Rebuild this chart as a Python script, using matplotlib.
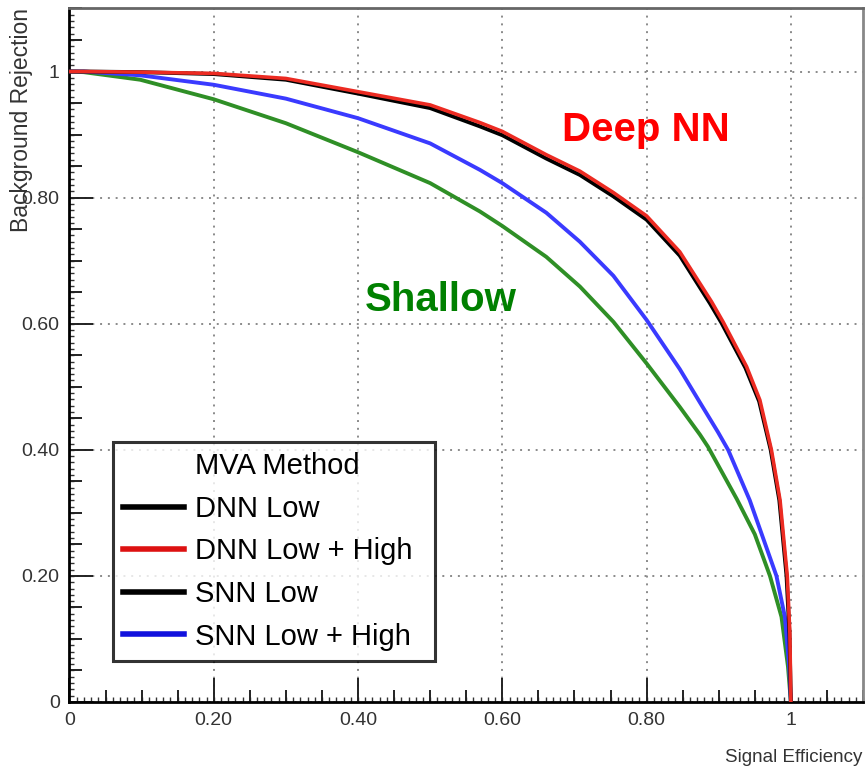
import numpy as np
import matplotlib.pyplot as plt
from matplotlib.ticker import MultipleLocator, FixedFormatter, FixedLocator, NullFormatter
from matplotlib.lines import Line2D

# signal efficiency / background rejection
dnn_high_x = [0, 0.02, 0.1, 0.2, 0.3, 0.4, 0.5, 0.569, 0.6, 0.661, 0.7075, 0.754, 0.8, 0.846, 0.890, 0.906, 0.9386, 0.957, 0.973, 0.985, 0.995, 0.9986, 1.0]
dnn_high_y = [1, 1.0, 0.999, 0.997, 0.989, 0.968, 0.947, 0.919, 0.905, 0.868, 0.842, 0.808, 0.771, 0.714, 0.635, 0.603, 0.532, 0.479, 0.40, 0.32, 0.20, 0.109, 0.0]

dnn_low_x = [0, 0.02, 0.1, 0.2, 0.3, 0.4, 0.5, 0.569, 0.6, 0.661, 0.7075, 0.754, 0.8, 0.846, 0.888, 0.904, 0.937, 0.956, 0.972, 0.984, 0.994, 0.998, 1.0]
dnn_low_y = [1, 1.0, 0.999, 0.996, 0.987, 0.965, 0.942, 0.913, 0.899, 0.862, 0.836, 0.802, 0.765, 0.708, 0.632, 0.601, 0.530, 0.477, 0.40, 0.32, 0.20, 0.109, 0.0]

snn_high_x = [0, 0.02, 0.098, 0.2, 0.3, 0.4, 0.5, 0.569, 0.6, 0.661, 0.7075, 0.754, 0.8, 0.846, 0.874, 0.899, 0.913, 0.943, 0.980, 0.9917, 0.9977, 1.0]
snn_high_y = [1, 1.0, 0.994, 0.979, 0.957, 0.926, 0.886, 0.844, 0.823, 0.776, 0.730, 0.676, 0.606, 0.528, 0.475, 0.428, 0.40, 0.32, 0.20, 0.135, 0.056, 0.0]

snn_low_x = [0, 0.02, 0.098, 0.2, 0.3, 0.4, 0.5, 0.569, 0.6, 0.661, 0.7075, 0.754, 0.8, 0.846, 0.874, 0.885, 0.925, 0.950, 0.971, 0.987, 0.996, 1.0]
snn_low_y = [1, 0.999, 0.987, 0.956, 0.918, 0.872, 0.823, 0.778, 0.755, 0.706, 0.659, 0.603, 0.537, 0.468, 0.424, 0.405, 0.322, 0.266, 0.20, 0.135, 0.056, 0.0]

legend_labels = ["MVA Method", "DNN Low", "DNN Low + High", "SNN Low", "SNN Low + High"]
tick_vals = [0, 0.2, 0.4, 0.6, 0.8, 1.0]
tick_labels = ["0", "0.20", "0.40", "0.60", "0.80", "1"]

RED = "#ec2b22"
BLUE = "#3a3aff"
GREEN = "#2f8f26"
FONT = ["Liberation Sans", "DejaVu Sans"]

fig = plt.figure(figsize=(8.65, 7.71), dpi=100)
ax = fig.add_axes([0.0803, 0.0895, 0.9174, 0.8995])

ax.plot(snn_low_x, snn_low_y, color=GREEN, lw=2.8, zorder=3)
ax.plot(snn_high_x, snn_high_y, color=BLUE, lw=2.8, zorder=4)
ax.plot(dnn_low_x, dnn_low_y, color="black", lw=2.8, zorder=5)
ax.plot(dnn_high_x, dnn_high_y, color=RED, lw=2.6, zorder=6)

ax.set_xlim(0, 1.1)
ax.set_ylim(0, 1.1)

ax.xaxis.set_major_locator(FixedLocator(tick_vals))
ax.xaxis.set_major_formatter(FixedFormatter(tick_labels))
ax.yaxis.set_major_locator(FixedLocator(tick_vals))
ax.yaxis.set_major_formatter(FixedFormatter(tick_labels))
ax.xaxis.set_minor_locator(MultipleLocator(0.05))
ax.yaxis.set_minor_locator(MultipleLocator(0.05))
ax.tick_params(which="major", direction="in", length=17, width=1.4, color="#222222",
               labelsize=14, labelcolor="#333333", pad=7, top=False, right=False)
ax.tick_params(which="minor", direction="in", length=9, width=1.4, color="#222222",
               top=False, right=False)
for lab in ax.get_xticklabels() + ax.get_yticklabels():
    lab.set_family(FONT)

# fine third-level ticks along the axes
sx = ax.secondary_xaxis("bottom")
sx.xaxis.set_major_locator(MultipleLocator(0.01))
sx.xaxis.set_major_formatter(NullFormatter())
sx.tick_params(direction="in", length=3.5, width=1, color="#333333")
sy = ax.secondary_yaxis("left")
sy.yaxis.set_major_locator(MultipleLocator(0.01))
sy.yaxis.set_major_formatter(NullFormatter())
sy.tick_params(direction="in", length=3.5, width=1, color="#333333")
for sec in (sx, sy):
    for s in sec.spines.values():
        s.set_visible(False)

ax.grid(True, which="major", color="#8a8a8a", linestyle=(0, (1, 3)), linewidth=1.4)

ax.spines["left"].set_linewidth(2)
ax.spines["bottom"].set_linewidth(2)
ax.spines["top"].set_color("#666666")
ax.spines["top"].set_linewidth(2)
ax.spines["right"].set_color("#888888")
ax.spines["right"].set_linewidth(2)

fig.text(22 / 865, 1 - 8 / 771, "Background Rejection", rotation=90, ha="center", va="top",
         fontsize=16.5, color="#333333", family=FONT)
fig.text(862 / 865, 1 - 757 / 771, "Signal Efficiency", ha="right", va="center",
         fontsize=13.5, color="#333333", family=FONT)

ax.text(0.683, 0.907, "Deep NN", color="#ff0000", fontsize=29, fontweight="bold",
        family=FONT, va="center", ha="left")
ax.text(0.41, 0.638, "Shallow", color="#008000", fontsize=29, fontweight="bold",
        family=FONT, va="center", ha="left")

handles = [
    Line2D([], [], color="none"),
    Line2D([], [], color="black", lw=4),
    Line2D([], [], color="#dd1111", lw=4),
    Line2D([], [], color="black", lw=4),
    Line2D([], [], color="#1111dd", lw=4),
]
leg = ax.legend(handles, legend_labels, loc="upper left",
                bbox_to_anchor=(0.0548, 0.0577, 0.4057, 0.3172), mode="expand",
                borderaxespad=0, frameon=True, fancybox=False, edgecolor="black",
                handlelength=2.1, handletextpad=0.35, labelspacing=0.5, borderpad=0.35,
                prop={"family": FONT, "size": 21})
leg.get_frame().set_linewidth(2.2)
leg.set_zorder(10)

fig.savefig("out.png", dpi=100)
